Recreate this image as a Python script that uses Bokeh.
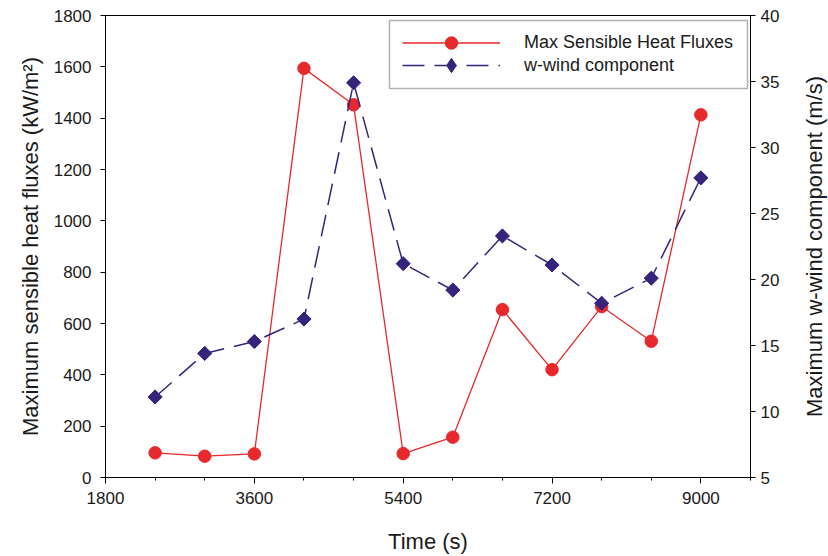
import numpy as np
from bokeh.plotting import figure
from bokeh.layouts import row
from bokeh.models import (Range1d, LinearAxis, FixedTicker, Legend, LegendItem,
                          ColumnDataSource, BoxAnnotation)
from bokeh.embed import file_html
from bokeh.resources import INLINE

# ---- data ----
time_s = [2400, 3000, 3600, 4200, 4800, 5400, 6000, 6600, 7200, 7800, 8400, 9000]
heat_flux = [96, 83, 92, 1594, 1452, 93, 157, 654, 420, 666, 531, 1413]
w_wind = [11.1, 14.4, 15.3, 17.0, 34.9, 21.2, 19.2, 23.3, 21.1, 18.2, 20.1, 27.7]

x_major = [1800, 3600, 5400, 7200, 9000]
x_minor = [2400, 3000, 4200, 4800, 6000, 6600, 7800, 8400, 9600]
y_left_ticks = [0, 200, 400, 600, 800, 1000, 1200, 1400, 1600, 1800]
y_right_ticks = [5, 10, 15, 20, 25, 30, 35, 40]

series_names = ["Max Sensible Heat Fluxes", "w-wind component"]
x_title = "Time (s)"
y_left_title = "Maximum sensible heat fluxes (kW/m\u00b2)"
y_right_title = "Maximum w-wind component (m/s)"

FONT = "Liberation Sans"
RED = "#e8292b"
BLUE = "#36237c"
TXT = "#1a1a1a"

src = ColumnDataSource(dict(t=time_s, q=heat_flux, w=w_wind))

p = figure(width=783, height=556, output_backend="svg", toolbar_location=None,
           x_range=Range1d(1800, 9600), y_range=Range1d(0, 1800),
           min_border_left=105, min_border_right=33, min_border_top=15,
           min_border_bottom=79)
p.extra_y_ranges = {"w": Range1d(5, 40)}

p.xgrid.visible = False
p.ygrid.visible = False
p.outline_line_color = "black"
p.outline_line_width = 1
p.background_fill_color = "white"
p.border_fill_color = "white"

# Bottom axis
xa = p.xaxis[0]
xa.ticker = FixedTicker(ticks=x_major, minor_ticks=x_minor)
xa.axis_label = x_title

# Left axis
ya = p.yaxis[0]
ya.ticker = FixedTicker(ticks=y_left_ticks)
ya.axis_label = y_left_title

# Right axis (its title is drawn by the narrow companion figure below)
ra = LinearAxis(y_range_name="w", ticker=FixedTicker(ticks=y_right_ticks))
p.add_layout(ra, "right")

for ax in [xa, ya, ra]:
    ax.axis_line_color = "black"
    ax.axis_line_width = 1
    ax.major_tick_line_color = "black"
    ax.minor_tick_line_color = "black"
    ax.major_tick_in = 0
    ax.minor_tick_in = 0
    ax.major_tick_out = 5
    ax.minor_tick_out = 0
    ax.major_label_text_font = FONT
    ax.major_label_text_font_size = "17px"
    ax.major_label_text_color = TXT
    ax.axis_label_text_font = FONT
    ax.axis_label_text_font_size = "22px"
    ax.axis_label_text_font_style = "normal"
    ax.axis_label_text_color = TXT
    ax.major_label_standoff = 9

xa.major_tick_out = 6
xa.minor_tick_out = 3
xa.major_label_standoff = 8
xa.axis_label_standoff = 22
ya.axis_label_standoff = 8
ra.major_label_standoff = 5

# Series
r_line = p.line("t", "q", source=src, line_color=RED, line_width=1.3)
r_pts = p.scatter("t", "q", source=src, marker="circle", size=12.5,
                  fill_color=RED, line_color=RED)
b_line = p.line("t", "w", source=src, y_range_name="w", line_color=BLUE,
                line_width=1.5, line_dash="22 10")
# diamond key for the legend, hidden beneath the rotated squares
b_key = p.scatter("t", "w", source=src, y_range_name="w", marker="diamond",
                  size=12.5, fill_color=BLUE, line_color=BLUE)
b_pts = p.scatter("t", "w", source=src, y_range_name="w", marker="square",
                  angle=np.pi / 4, size=10, fill_color=BLUE, line_color=BLUE)

# Legend frame
box = BoxAnnotation(left=284, right=642, bottom=389, top=457,
                    left_units="screen", right_units="screen",
                    bottom_units="screen", top_units="screen",
                    fill_color="white", fill_alpha=1,
                    line_color="black", line_width=1.5)
p.add_layout(box)

common = dict(orientation="vertical", glyph_width=98,
              label_standoff=24, padding=0, spacing=0, margin=0,
              border_line_color=None, background_fill_alpha=0,
              label_text_font=FONT, label_text_font_size="18px",
              label_text_color=TXT, label_height=20)
leg1 = Legend(items=[LegendItem(label=series_names[0], renderers=[r_line, r_pts])],
              location=(297, 419), glyph_height=31, **common)
leg2 = Legend(items=[LegendItem(label=series_names[1], renderers=[b_line, b_key])],
              location=(297, 394), glyph_height=36, **common)
p.add_layout(leg1, "center")
p.add_layout(leg2, "center")

# Narrow companion figure carrying the right-hand title (reads bottom-to-top)
p2 = figure(width=45, height=556, output_backend="svg", toolbar_location=None,
            x_range=Range1d(0, 1), y_range=Range1d(0, 1),
            min_border_left=43, min_border_right=0, min_border_top=15,
            min_border_bottom=79)
p2.outline_line_color = None
p2.xgrid.visible = False
p2.ygrid.visible = False
p2.xaxis.visible = False
p2.background_fill_color = "white"
p2.border_fill_color = "white"
ta = p2.yaxis[0]
ta.ticker = FixedTicker(ticks=[])
ta.axis_line_color = None
ta.major_tick_out = 0
ta.major_tick_in = 0
ta.minor_tick_out = 0
ta.minor_tick_in = 0
ta.major_label_standoff = 0
ta.axis_label = y_right_title
ta.axis_label_standoff = 0
ta.axis_label_text_font = FONT
ta.axis_label_text_font_size = "22px"
ta.axis_label_text_font_style = "normal"
ta.axis_label_text_color = TXT

layout = row(p, p2, spacing=0)

open("out.html", "w").write(file_html(layout, INLINE))
